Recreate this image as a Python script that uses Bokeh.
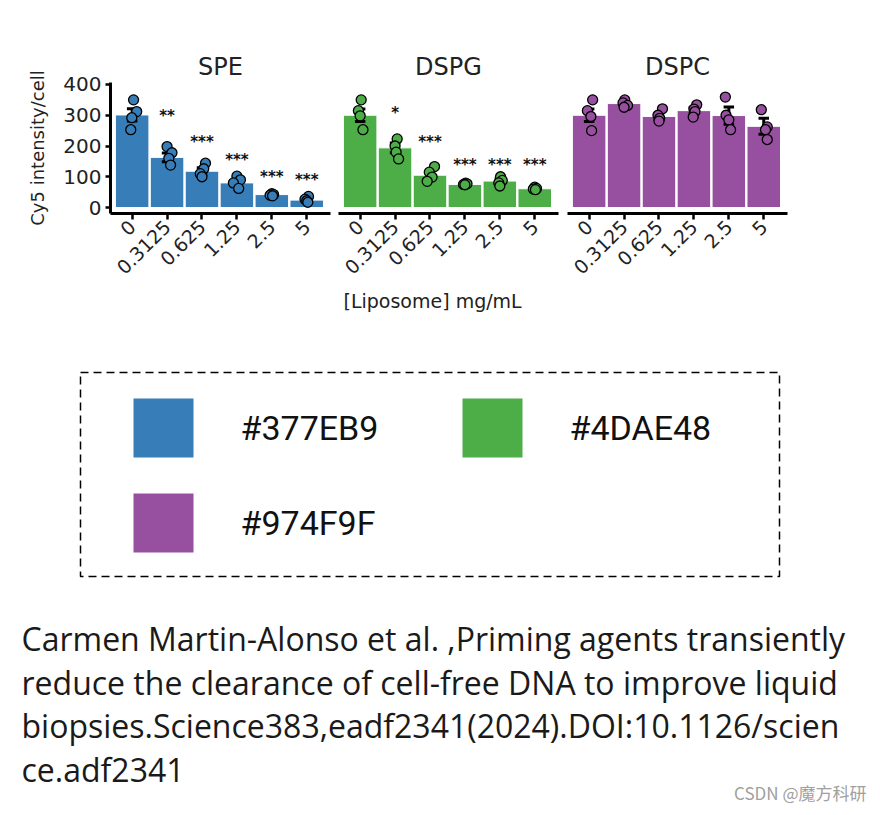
import numpy as np
from bokeh.plotting import figure
from bokeh.layouts import row, column
from bokeh.models import Range1d, FixedTicker, Title
from bokeh.embed import file_html
from bokeh.resources import INLINE
from bokeh.core.properties import value

# ---------------- data ----------------
doses = ["0", "0.3125", "0.625", "1.25", "2.5", "5"]
panels = ["SPE", "DSPG", "DSPC"]
bar_colors = ["#377EB9", "#4DAE48", "#974F9F"]
y_ticks = [0, 100, 200, 300, 400]
x_title = "[Liposome] mg/mL"
y_title = "Cy5 intensity/cell"

spe_mean = [301, 163, 118, 80, 42, 24]
spe_err = [20, 14, 11, 9, 3, 4]
spe_points = [[350, 312, 292, 253], [198, 178, 160, 138], [144, 126, 110, 100],
              [102, 90, 80, 62], [45, 42, 40, 38], [36, 27, 22, 17]]
spe_jitter = [[0.04, 0.13, -0.01, -0.04], [0.0, 0.14, 0.05, 0.1], [0.1, 0.05, -0.05, 0.0],
              [0.0, 0.1, -0.1, 0.05], [0.0, 0.05, -0.05, 0.02], [0.05, -0.05, 0.0, 0.03]]
spe_stars = ["", "**", "***", "***", "***", "***"]
spe_star_y = [0, 310, 225, 167, 113, 104]

dspg_mean = [300, 194, 105, 75, 86, 61]
dspg_err = [20, 16, 11, 2, 7, 2]
dspg_points = [[350, 315, 298, 253], [223, 200, 180, 158], [133, 115, 99, 85],
               [79, 77, 75, 74], [100, 88, 80, 70], [66, 62, 60, 58]]
dspg_jitter = [[0.03, -0.05, 0.0, 0.08], [0.06, 0.0, 0.03, 0.1], [0.13, -0.02, 0.06, -0.08],
               [0.02, 0.06, -0.04, 0.0], [0.02, 0.07, -0.03, 0.0], [0.0, 0.05, -0.04, 0.02]]
dspg_stars = ["", "*", "***", "***", "***", "***"]
dspg_star_y = [0, 321, 225, 150, 150, 150]

dspc_mean = [300, 338, 296, 315, 299, 264]
dspc_err = [20, 5, 10, 9, 28, 26]
dspc_points = [[350, 315, 296, 250], [350, 340, 332, 326], [321, 300, 290, 281],
               [334, 320, 312, 294], [359, 300, 285, 253], [318, 262, 253, 221]]
dspc_jitter = [[0.1, -0.05, 0.05, 0.07], [0.02, -0.03, 0.1, 0.0], [0.1, -0.03, 0.02, 0.0],
               [0.08, 0.0, 0.03, -0.02], [-0.1, -0.08, 0.0, 0.05], [-0.07, 0.1, 0.05, 0.1]]
dspc_stars = ["", "", "", "", "", ""]
dspc_star_y = [0, 0, 0, 0, 0, 0]

legend_labels = ["#377EB9", "#4DAE48", "#974F9F"]

citation_lines = [
    "Carmen Martin-Alonso et al. ,Priming agents transiently",
    "reduce the clearance of cell-free DNA to improve liquid",
    "biopsies.Science383,eadf2341(2024).DOI:10.1126/scien",
    "ce.adf2341",
]
watermark = ["CSDN @魔方科研"]

# ---------------- chart panels ----------------
CH = 345
FONT = "DejaVu Sans"
TXT = "#222222"

panel_data = [
    (spe_mean, spe_err, spe_points, spe_jitter, spe_stars, spe_star_y),
    (dspg_mean, dspg_err, dspg_points, dspg_jitter, dspg_stars, dspg_star_y),
    (dspc_mean, dspc_err, dspc_points, dspc_jitter, dspc_stars, dspc_star_y),
]
geom = [(334, 110, 4), (228, 4, 4), (318, 5, 93)]

figs = []
for i, (mean, err, pts, jit, stars, star_y) in enumerate(panel_data):
    w, mbl, mbr = geom[i]
    p = figure(width=w, height=CH, x_range=Range1d(-0.62, 5.68), y_range=Range1d(-19.5, 406.5),
               output_backend="svg", toolbar_location=None,
               min_border_left=mbl, min_border_right=mbr, min_border_top=82,
               min_border_bottom=CH - 82 - 131, title=panels[i])
    p.outline_line_color = None
    p.xgrid.visible = False
    p.ygrid.visible = False
    p.title.align = "center"
    p.title.text_font = FONT
    p.title.text_font_style = "normal"
    p.title.text_font_size = "24px"
    p.title.text_color = TXT
    p.title.standoff = 3

    xs = list(range(len(doses)))
    col = bar_colors[i]
    p.vbar(x=xs, top=mean, bottom=0, width=0.96, fill_color=col, line_color="white", line_width=1)

    lo = [m - e for m, e in zip(mean, err)]
    hi = [m + e for m, e in zip(mean, err)]
    p.segment(x0=xs, y0=lo, x1=xs, y1=hi, line_color="black", line_width=3)
    cw = 0.15
    p.segment(x0=[x - cw for x in xs], y0=hi, x1=[x + cw for x in xs], y1=hi, line_color="black", line_width=3)
    p.segment(x0=[x - cw for x in xs], y0=lo, x1=[x + cw for x in xs], y1=lo, line_color="black", line_width=3)

    px, py = [], []
    for k, (vals, js) in enumerate(zip(pts, jit)):
        for v, j in zip(vals, js):
            px.append(k + j)
            py.append(v)
    p.scatter(x=px, y=py, size=10, fill_color=col, line_color="black", line_width=1.3)

    sx = [k for k, s in enumerate(stars) if s]
    sy = [star_y[k] for k in sx]
    st = [stars[k] for k in sx]
    if sx:
        p.text(x=sx, y=sy, text=st, text_align="center", text_baseline="middle", y_offset=4,
               text_font=value(FONT), text_font_style="bold", text_font_size="15px", text_color="#111111")

    # x axis
    xa = p.xaxis[0]
    xa.ticker = FixedTicker(ticks=xs)
    xa.major_label_overrides = {k: d for k, d in enumerate(doses)}
    xa.major_label_orientation = np.pi / 4
    xa.minor_tick_line_color = None
    xa.axis_line_width = 3
    xa.major_tick_line_width = 2.5
    xa.major_tick_out = 6
    xa.major_tick_in = 0
    xa.major_label_text_font = FONT
    xa.major_label_text_font_size = "19px"
    xa.major_label_text_color = TXT
    xa.major_label_standoff = 4
    if i == 1:
        p.add_layout(Title(text=x_title, align="left", offset=5, standoff=8,
                           text_font=FONT, text_font_style="normal", text_font_size="19px",
                           text_color=TXT), "below")

    ya = p.yaxis[0]
    if i == 0:
        ya.ticker = FixedTicker(ticks=y_ticks)
        ya.minor_tick_line_color = None
        ya.axis_line_width = 3
        ya.major_tick_line_width = 2.5
        ya.major_tick_out = 5
        ya.major_tick_in = 0
        ya.major_label_text_font = FONT
        ya.major_label_text_font_size = "20px"
        ya.major_label_text_color = TXT
        ya.major_label_standoff = 4
        ya.axis_label = y_title
        ya.axis_label_text_font = FONT
        ya.axis_label_text_font_style = "normal"
        ya.axis_label_text_font_size = "18px"
        ya.axis_label_text_color = TXT
        ya.axis_label_standoff = 12
    else:
        ya.visible = False
    figs.append(p)

chart_row = row(*figs, spacing=0)

# ---------------- colour legend box + citation (pixel space) ----------------
IH = 815 - CH
info = figure(width=880, height=IH, x_range=Range1d(0, 880), y_range=Range1d(IH, 0),
              output_backend="svg", toolbar_location=None, x_axis_location=None, y_axis_location=None,
              min_border=0)
info.xgrid.visible = False
info.ygrid.visible = False
info.outline_line_color = None

# dashed frame around the colour key
info.quad(left=[80], right=[779], top=[27], bottom=[231], fill_color=None,
          line_color="black", line_dash="8 5", line_width=1.5)

n = len(legend_labels)
sw_x = [163 + 329 * (k % 2) for k in range(n)]
sw_y = [82.5 + 95 * (k // 2) for k in range(n)]
info.rect(x=sw_x, y=sw_y, width=60, height=59, fill_color=bar_colors, line_color=None)
info.text(x=sw_x, y=sw_y, text=legend_labels, x_offset=77, text_baseline="middle",
          text_font=value("Roboto"), text_font_size="34px", text_color="#111111")

cl_y = [293 + 43.7 * k for k in range(len(citation_lines))]
info.text(x=[21] * len(citation_lines), y=cl_y, text=citation_lines,
          text_baseline="alphabetic", text_font=value("Open Sans"), text_font_size="32px",
          text_color="#1a1a1a")

info.text(x=[866], y=[447], text=watermark, text_align="right", text_baseline="middle",
          text_font=value("Noto Sans CJK SC"), text_font_size="17px", text_color="#a0a0a0")

page = column(chart_row, info, spacing=0)
open("out.html", "w").write(file_html(page, INLINE))
